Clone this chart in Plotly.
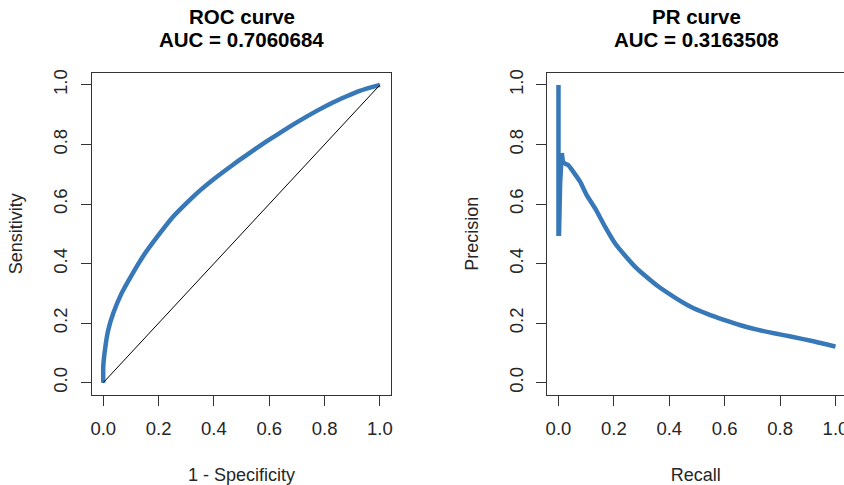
import plotly.graph_objects as go

# ROC curve values (1 - specificity, sensitivity)
roc_fpr = [0.0, 0.0, 0.006, 0.018, 0.036, 0.066, 0.108, 0.144, 0.205, 0.253, 0.313, 0.349,
           0.40, 0.469, 0.493, 0.55, 0.59, 0.65, 0.71, 0.77, 0.83, 0.88, 0.927, 1.0]
roc_tpr = [0.0, 0.054, 0.11, 0.177, 0.233, 0.30, 0.37, 0.425, 0.502, 0.558, 0.614, 0.645,
           0.684, 0.732, 0.748, 0.785, 0.81, 0.846, 0.88, 0.912, 0.941, 0.962, 0.98, 1.0]
diag_x = [0.0, 1.0]
diag_y = [0.0, 1.0]

# PR curve values (recall, precision): spike near recall 0, then the main curve
pr_spike_recall = [0.0, 0.0, 0.001, 0.002, 0.006, 0.008, 0.012]
pr_spike_precision = [1.0, 0.5, 1.0, 0.5, 0.67, 0.77, 0.771]
pr_recall = [0.012, 0.017, 0.025, 0.035, 0.053, 0.078, 0.102, 0.132, 0.168, 0.204, 0.24,
             0.276, 0.312, 0.362, 0.422, 0.477, 0.537, 0.597, 0.657, 0.717, 0.778, 0.838,
             0.92, 1.0]
pr_precision = [0.771, 0.742, 0.735, 0.731, 0.709, 0.675, 0.63, 0.586, 0.524, 0.468, 0.427,
                0.39, 0.36, 0.322, 0.285, 0.255, 0.231, 0.211, 0.193, 0.178, 0.166, 0.155,
                0.139, 0.121]

tick_vals = [0.0, 0.2, 0.4, 0.6, 0.8, 1.0]
tick_text = ["0.0", "0.2", "0.4", "0.6", "0.8", "1.0"]

roc_title = ["ROC curve", "AUC = 0.7060684"]
pr_title = ["PR curve", "AUC = 0.3163508"]

W, H = 844, 485
BLUE = "#3778b8"
FONT = "Liberation Sans, Arial, sans-serif"

fig = go.Figure()
fig.add_trace(go.Scatter(x=roc_fpr, y=roc_tpr, mode="lines",
                         line=dict(color=BLUE, width=4.5, shape="spline", smoothing=0.6),
                         xaxis="x", yaxis="y", showlegend=False, hoverinfo="skip"))
fig.add_trace(go.Scatter(x=diag_x, y=diag_y, mode="lines",
                         line=dict(color="black", width=1), xaxis="x", yaxis="y",
                         showlegend=False, hoverinfo="skip"))
fig.add_trace(go.Scatter(x=pr_spike_recall, y=pr_spike_precision, mode="lines",
                         line=dict(color=BLUE, width=4.5), xaxis="x2", yaxis="y2",
                         showlegend=False, hoverinfo="skip"))
fig.add_trace(go.Scatter(x=pr_recall, y=pr_precision, mode="lines",
                         line=dict(color=BLUE, width=4.5, shape="spline", smoothing=0.5),
                         xaxis="x2", yaxis="y2", showlegend=False, hoverinfo="skip"))

ydom = [1 - 394.6 / H, 1 - 73 / H]
x1dom = [92.2 / W, 391 / W]
x2left = 547.4
x2dom = [x2left / W, 1.0]
x2max = -0.04 + (W - x2left) / 277.0

tickfont = dict(family=FONT, size=18.5, color="#262626")
titlefont = dict(family=FONT, size=18, color="#262626")

common_x = dict(tickmode="array", tickvals=tick_vals, ticktext=tick_text,
                ticks="outside", ticklen=10.5, tickcolor="#333", tickwidth=1,
                showline=True, linecolor="#333", linewidth=1,
                showgrid=False, zeroline=False, tickfont=tickfont,
                ticklabelstandoff=7, ticklabeloverflow="allow",
                automargin=False, fixedrange=True)
common_y = dict(common_x)
common_y.update(tickangle=-90, ticklabelstandoff=6)

fig.update_layout(
    width=W, height=H,
    margin=dict(l=0, r=0, t=0, b=0, autoexpand=False),
    paper_bgcolor="white", plot_bgcolor="white",
    font=dict(family=FONT),
    xaxis=dict(common_x, domain=x1dom, range=[-0.04, 1.04], mirror=True,
               anchor="y",
               title=dict(text="1 - Specificity", font=titlefont, standoff=32)),
    yaxis=dict(common_y, domain=ydom, range=[-0.04, 1.04], mirror=True,
               anchor="x",
               title=dict(text="Sensitivity", font=titlefont, standoff=22)),
    xaxis2=dict(common_x, domain=x2dom, range=[-0.04, x2max], mirror=True,
                anchor="y2",
                title=dict(text="Recall", font=titlefont, standoff=32)),
    yaxis2=dict(common_y, domain=ydom, range=[-0.04, 1.04], mirror=False,
                anchor="x2",
                title=dict(text="Precision", font=titlefont, standoff=22)),
)

def add_title(lines, cx):
    ys = [16.5, 39.5]
    for txt, yy in zip(lines, ys):
        fig.add_annotation(text="<b>%s</b>" % txt, xref="paper", yref="paper",
                           x=cx / W, y=1 - yy / H, xanchor="center", yanchor="middle",
                           showarrow=False,
                           font=dict(family=FONT, size=20.5, color="black"))

add_title(roc_title, 241.5)
add_title(pr_title, 696.0)

fig.write_html("out.html", config={"displayModeBar": False},
               post_script="document.body.style.margin='0';document.body.style.overflow='hidden';")
